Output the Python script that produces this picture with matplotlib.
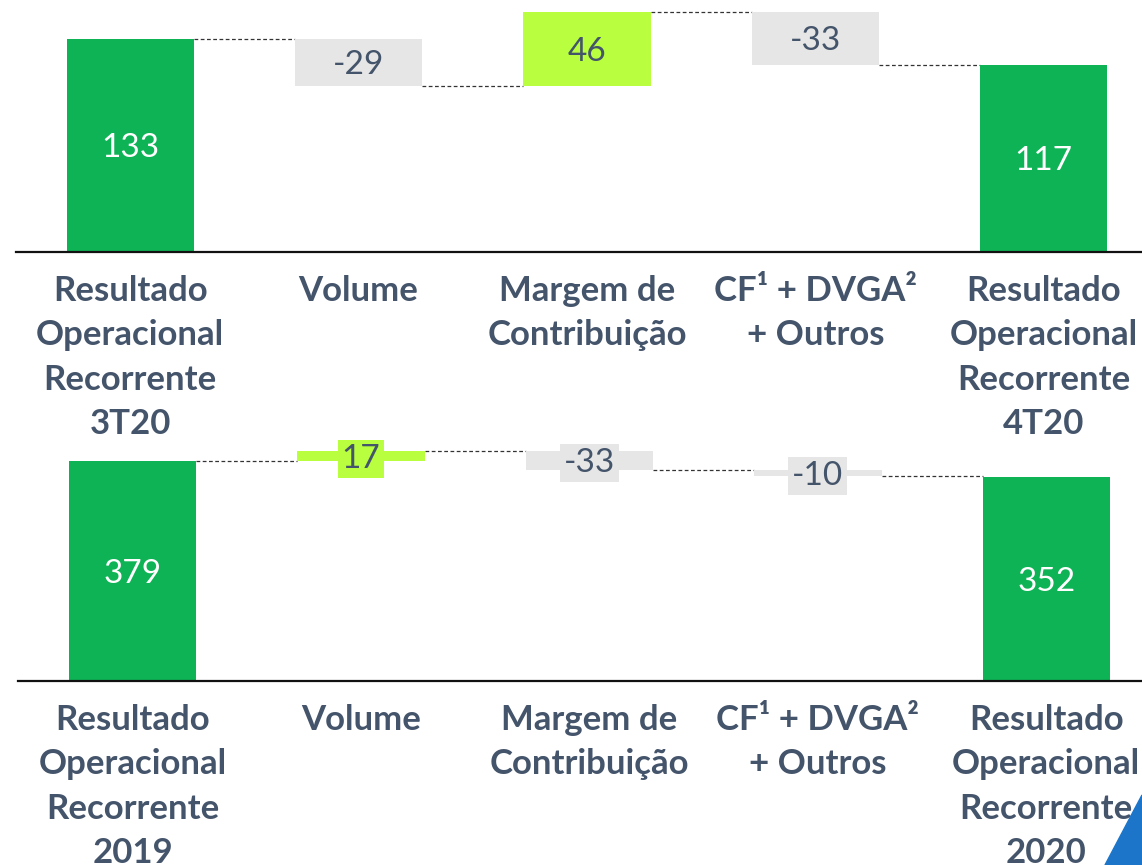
import numpy as np
import matplotlib.pyplot as plt
from matplotlib.patches import Polygon

plt.rcParams["font.family"] = ["Lato", "DejaVu Sans"]

# dados do gráfico (cascata)
categories_top = ["Resultado\nOperacional\nRecorrente\n3T20", "Volume",
                  "Margem de\nContribuição", "CF¹ + DVGA²\n+ Outros",
                  "Resultado\nOperacional\nRecorrente\n4T20"]
values_top = [133, -29, 46, -33, 117]

categories_bottom = ["Resultado\nOperacional\nRecorrente\n2019", "Volume",
                     "Margem de\nContribuição", "CF¹ + DVGA²\n+ Outros",
                     "Resultado\nOperacional\nRecorrente\n2020"]
values_bottom = [379, 17, -33, -10, 352]

GREEN = "#0EB356"
LIGHT_GREEN = "#B9FF3F"
GRAY = "#E6E6E6"
TEXT = "#44546A"
W, H = 1142, 865


def draw_waterfall(ax, categories, values, boxed):
    x = np.arange(len(values))
    width = 0.557
    running = 0
    levels = []
    for i, v in enumerate(values):
        if i == 0 or i == len(values) - 1:
            bottom, height, color = 0, v, GREEN
            running = v
            txt_color = "white"
        else:
            bottom = running if v > 0 else running + v
            height = abs(v)
            color = LIGHT_GREEN if v > 0 else GRAY
            running += v
            txt_color = TEXT
        levels.append(running)
        ax.bar(x[i], height, bottom=bottom, width=width, color=color, zorder=2)
        kw = {}
        if boxed and 0 < i < len(values) - 1:
            kw["bbox"] = dict(boxstyle="square,pad=0.12", fc=color, ec="none")
        ax.annotate(f"{v}", (x[i], bottom + height / 2), xytext=(0, -2),
                    textcoords="offset points", ha="center", va="center",
                    fontsize=24, color=txt_color, zorder=3, **kw)
    # linhas tracejadas de ligação
    for i in range(len(values) - 1):
        ax.plot([x[i] + width / 2, x[i + 1] - width / 2], [levels[i], levels[i]],
                color="#333333", lw=0.9, ls=(0, (3, 2)), zorder=1)
    ax.set_xlim(-0.5, 4.43)
    ax.set_xticks(x, categories)
    for lab in ax.get_xticklabels():
        lab.set_fontweight("bold")
        lab.set_fontsize(25)
        lab.set_color(TEXT)
        lab.set_linespacing(1.48)
        lab.set_multialignment("center")
    ax.tick_params(axis="x", length=0, pad=16.5)
    ax.set_yticks([])
    for s in ["top", "right", "left"]:
        ax.spines[s].set_visible(False)
    ax.spines["bottom"].set_color("#111111")
    ax.spines["bottom"].set_linewidth(1.6)
    ax.patch.set_visible(False)


fig = plt.figure(figsize=(W / 100, H / 100), dpi=100)

ax1 = fig.add_axes([16 / W, (H - 252) / H, (W - 16) / W, 252 / H])
ax1.set_ylim(0, 157.5)
draw_waterfall(ax1, categories_top, values_top, boxed=False)

ax2 = fig.add_axes([18.5 / W, (H - 681) / H, (W - 16) / W, 241 / H])
ax2.set_ylim(0, 415)
draw_waterfall(ax2, categories_bottom, values_bottom, boxed=True)

# detalhe azul no canto
fig.add_artist(Polygon([(1.0, 1 - 795 / H), (1105 / W, 0), (1.0, 0)],
                       closed=True, transform=fig.transFigure,
                       color="#1C75C9", zorder=5))

fig.savefig("out.png", dpi=100)
